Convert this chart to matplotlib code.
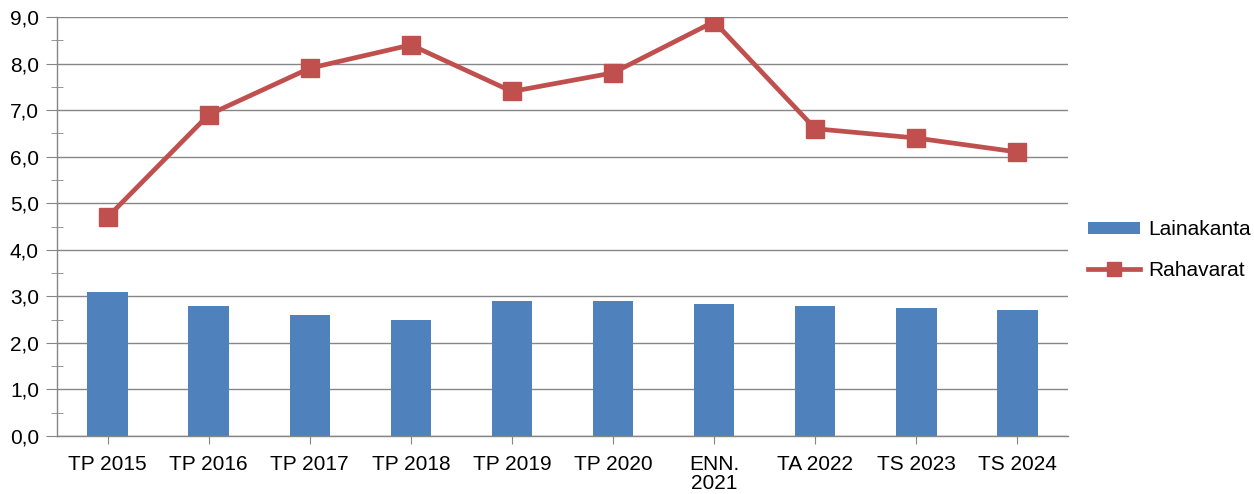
import matplotlib
matplotlib.use("Agg")
import matplotlib.pyplot as plt
import numpy as np
from matplotlib.ticker import MultipleLocator, FuncFormatter

categories = ["TP 2015", "TP 2016", "TP 2017", "TP 2018", "TP 2019", "TP 2020",
              "ENN.\n2021", "TA 2022", "TS 2023", "TS 2024"]
lainakanta = [3.1, 2.8, 2.6, 2.5, 2.9, 2.9, 2.83, 2.8, 2.76, 2.7]
rahavarat = [4.7, 6.9, 7.9, 8.4, 7.4, 7.8, 8.9, 6.6, 6.4, 6.1]

plt.rcParams['font.family'] = ['Liberation Sans', 'DejaVu Sans']
FS = 15

fig = plt.figure(figsize=(12.54, 4.94), dpi=100)
ax = fig.add_axes([57/1254, 1-436/494, (1068-57)/1254, (436-17)/494])

x = np.arange(len(categories))
grid_c = "#868686"
bars = ax.bar(x, lainakanta, width=0.4, color="#4F81BD", label="Lainakanta", zorder=2)
line, = ax.plot(x, rahavarat, color="#C0504D", linewidth=3.4, marker="s", markersize=13.5,
                label="Rahavarat", zorder=3)

ax.set_xlim(-0.5, len(categories) - 0.5)
ax.set_ylim(0, 9)
ax.yaxis.set_major_locator(MultipleLocator(1))
ax.yaxis.set_minor_locator(MultipleLocator(0.5))
ax.yaxis.set_major_formatter(FuncFormatter(lambda v, p: f"{v:.1f}".replace(".", ",")))
ax.set_xticks(x)
ax.set_xticklabels(categories, linespacing=1.0)
ax.grid(axis="y", which="major", color=grid_c, linewidth=1, zorder=0)
ax.set_axisbelow(True)

for s in ["top", "right"]:
    ax.spines[s].set_visible(False)
for s in ["left", "bottom"]:
    ax.spines[s].set_color(grid_c)
    ax.spines[s].set_linewidth(1)

ax.tick_params(axis="y", which="major", length=8, color=grid_c, labelsize=FS, pad=5)
ax.tick_params(axis="y", which="minor", length=8, direction="inout", color=grid_c)
ax.tick_params(axis="x", which="major", length=6, color=grid_c, labelsize=FS, pad=8)

leg = ax.legend([bars, line], ["Lainakanta", "Rahavarat"], loc="upper left",
                bbox_to_anchor=(1.0198, 0.515), frameon=False, borderpad=0,
                borderaxespad=0, fontsize=FS, handlelength=2.5, handletextpad=0.4,
                labelspacing=1.05, handleheight=0.5, markerscale=0.75)

fig.savefig("out.png", dpi=100)
